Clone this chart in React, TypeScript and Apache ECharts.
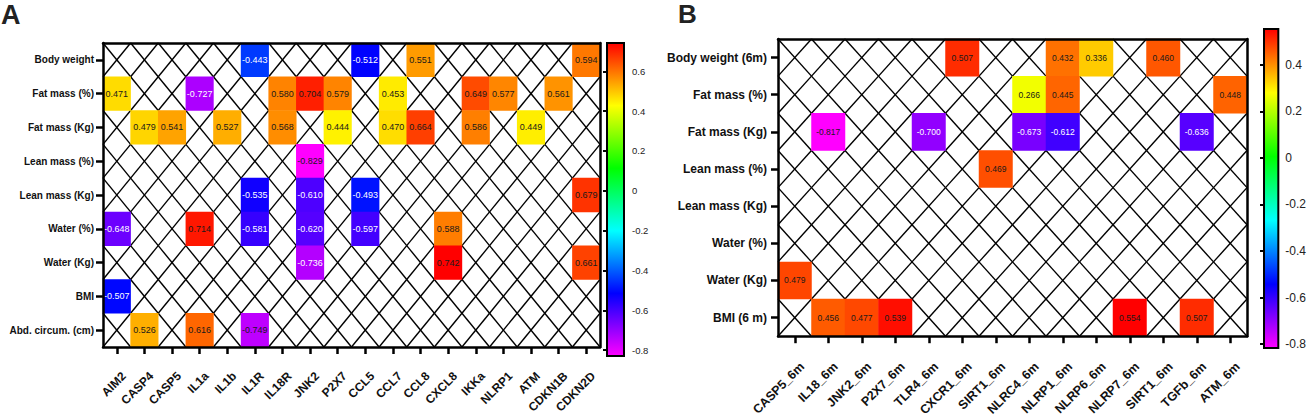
import React, { useEffect, useRef } from 'react';
import * as echarts from 'echarts';

// ---------------- Panel A data ----------------
const aCols = ['AIM2', 'CASP4', 'CASP5', 'IL1a', 'IL1b', 'IL1R', 'IL18R', 'JNK2', 'P2X7', 'CCL5', 'CCL7', 'CCL8', 'CXCL8', 'IKKa', 'NLRP1', 'ATM', 'CDKN1B', 'CDKN2D'];
const aRows = ['Body weight', 'Fat mass (%)', 'Fat mass (Kg)', 'Lean mass (%)', 'Lean mass (Kg)', 'Water (%)', 'Water (Kg)', 'BMI', 'Abd. circum. (cm)'];
// [column index, row index, r]
const aCells: number[][] = [
  [5, 0, -0.443], [9, 0, -0.512], [11, 0, 0.551], [17, 0, 0.594],
  [0, 1, 0.471], [3, 1, -0.727], [6, 1, 0.58], [7, 1, 0.704], [8, 1, 0.579], [10, 1, 0.453], [13, 1, 0.649], [14, 1, 0.577], [16, 1, 0.561],
  [1, 2, 0.479], [2, 2, 0.541], [4, 2, 0.527], [6, 2, 0.568], [8, 2, 0.444], [10, 2, 0.47], [11, 2, 0.664], [13, 2, 0.586], [15, 2, 0.449],
  [7, 3, -0.829],
  [5, 4, -0.535], [7, 4, -0.61], [9, 4, -0.493], [17, 4, 0.679],
  [0, 5, -0.648], [3, 5, 0.714], [5, 5, -0.581], [7, 5, -0.62], [9, 5, -0.597], [12, 5, 0.588],
  [7, 6, -0.736], [12, 6, 0.742], [17, 6, 0.661],
  [0, 7, -0.507],
  [1, 8, 0.526], [3, 8, 0.616], [5, 8, -0.749],
];
const aTicks = [-0.8, -0.6, -0.4, -0.2, 0, 0.2, 0.4, 0.6];

// ---------------- Panel B data ----------------
const bCols = ['CASP5_6m', 'IL18_6m', 'JNK2_6m', 'P2X7_6m', 'TLR4_6m', 'CXCR1_6m', 'SIRT1_6m', 'NLRC4_6m', 'NLRP1_6m', 'NLRP6_6m', 'NLRP7_6m', 'SIRT1_6m', 'TGFb_6m', 'ATM_6m'];
const bRows = ['Body weight (6m)', 'Fat mass (%)', 'Fat mass (Kg)', 'Lean mass (%)', 'Lean mass (Kg)', 'Water (%)', 'Water (Kg)', 'BMI (6 m)'];
const bCells: number[][] = [
  [5, 0, 0.507], [8, 0, 0.432], [9, 0, 0.336], [11, 0, 0.46],
  [7, 1, 0.266], [8, 1, 0.445], [13, 1, 0.448],
  [1, 2, -0.817], [4, 2, -0.7], [7, 2, -0.673], [8, 2, -0.612], [12, 2, -0.636],
  [6, 3, 0.469],
  [0, 6, 0.479],
  [1, 7, 0.456], [2, 7, 0.477], [3, 7, 0.539], [10, 7, 0.554], [12, 7, 0.507],
];
const bTicks = [-0.8, -0.6, -0.4, -0.2, 0, 0.2, 0.4];

const palette = ['#ff00ff', '#0000ff', '#00ffff', '#00ff00', '#ffff00', '#ff0000'];
const FONT = 'Arial, "Liberation Sans", Helvetica, sans-serif';

function emptyCells(cols: string[], rows: string[], cells: number[][]) {
  const filled = new Set(cells.map((c) => c[0] + ',' + c[1]));
  const out: number[][] = [];
  rows.forEach((_, r) => cols.forEach((__, c) => { if (!filled.has(c + ',' + r)) out.push([c, r]); }));
  return out;
}

function labelColor(v: number) {
  return v < 0 && v > -0.74 ? '#ffffff' : '#1a1a1a';
}

const hatchRender = (params: any, api: any) => {
  const c = api.coord([api.value(0), api.value(1)]);
  const s = api.size([1, 1]);
  const x0 = c[0] - s[0] / 2, x1 = c[0] + s[0] / 2, y0 = c[1] - s[1] / 2, y1 = c[1] + s[1] / 2;
  const style = { stroke: '#000', lineWidth: 1.4 };
  return {
    type: 'group',
    children: [
      { type: 'line', shape: { x1: x0, y1: y0, x2: x1, y2: y1 }, style },
      { type: 'line', shape: { x1: x0, y1: y1, x2: x1, y2: y0 }, style },
    ],
  };
};

const barRender = (params: any) => {
  const cs = params.coordSys;
  const stops = palette.slice().reverse().map((color, i) => ({ offset: i / (palette.length - 1), color }));
  return {
    type: 'rect',
    shape: { x: cs.x, y: cs.y, width: cs.width, height: cs.height },
    style: { fill: new echarts.graphic.LinearGradient(0, 0, 0, 1, stops), stroke: '#000', lineWidth: 2 },
  };
};

function panel(opts: {
  cols: string[]; rows: string[]; cells: number[][]; ticks: number[];
  gi: number; xFont: number; yFont: number; valFont: number; cbFont: number;
  xMargin: number; yMargin: number; cbMargin: number;
}) {
  const { cols, rows, cells, ticks, gi } = opts;
  const vals = cells.map((c) => c[2]);
  const vmin = Math.min(...vals), vmax = Math.max(...vals);
  const border = { show: true, lineStyle: { color: '#000', width: 2.5 } };
  const xAxis = [
    {
      type: 'category', gridIndex: gi, data: cols, position: 'bottom', z: 10,
      axisLine: border,
      axisTick: { show: true, alignWithLabel: true, length: 7, lineStyle: { color: '#000', width: 2.5 } },
      axisLabel: {
        interval: 0, rotate: 45, margin: opts.xMargin, fontSize: opts.xFont, fontWeight: 'bold', color: '#111', fontFamily: FONT,
        verticalAlign: 'top', padding: [4, 0, 0, 0],
      },
      splitLine: { show: false },
    },
    {
      type: 'category', gridIndex: gi, data: cols, position: 'top', z: 10,
      axisLine: border, axisTick: { show: false }, axisLabel: { show: false }, splitLine: { show: false },
    },
    { type: 'value', gridIndex: gi + 1, min: 0, max: 1, show: false },
  ];
  const yAxis = [
    {
      type: 'category', gridIndex: gi, data: rows, inverse: true, position: 'left', z: 10,
      axisLine: border,
      axisTick: { show: true, alignWithLabel: true, length: 7, lineStyle: { color: '#000', width: 2.5 } },
      axisLabel: { interval: 0, margin: opts.yMargin, fontSize: opts.yFont, fontWeight: 'bold', color: '#111', fontFamily: FONT },
      splitLine: { show: false },
    },
    {
      type: 'category', gridIndex: gi, data: rows, inverse: true, position: 'right', z: 10,
      axisLine: border, axisTick: { show: false }, axisLabel: { show: false }, splitLine: { show: false },
    },
    {
      type: 'value', gridIndex: gi + 1, min: vmin, max: vmax, position: 'right', z: 10,
      axisLine: { show: false },
      axisTick: { show: true, inside: true, length: 4, customValues: ticks, lineStyle: { color: '#000', width: 2 } },
      axisLabel: { show: true, customValues: ticks, margin: opts.cbMargin, fontSize: opts.cbFont, color: '#222', fontFamily: FONT, formatter: (v: number) => String(Math.round(v * 10) / 10) },
      splitLine: { show: false },
    },
  ];
  const xi = gi / 2 * 3;
  const series = [
    {
      type: 'custom', xAxisIndex: xi, yAxisIndex: xi, renderItem: hatchRender,
      data: emptyCells(cols, rows, cells), silent: true, z: 2,
    },
    {
      type: 'heatmap', xAxisIndex: xi, yAxisIndex: xi, z: 3,
      data: cells.map((c) => ({ value: c, label: { color: labelColor(c[2]) } })),
      itemStyle: { borderWidth: 0 },
      label: { show: true, fontSize: opts.valFont, fontFamily: FONT, formatter: (p: any) => p.value[2].toFixed(3) },
      emphasis: { disabled: true },
    },
    {
      type: 'custom', xAxisIndex: xi + 2, yAxisIndex: xi + 2, renderItem: barRender,
      data: [[0.5, vmin]], silent: true, z: 2,
    },
  ];
  return { xAxis, yAxis, series, vmin, vmax };
}

export default function App() {
  const ref = useRef<HTMLDivElement>(null);
  useEffect(() => {
    document.body.style.margin = '0';
    if (!ref.current) return;
    const chart = echarts.init(ref.current, null, { renderer: 'svg' });
    const A = panel({ cols: aCols, rows: aRows, cells: aCells, ticks: aTicks, gi: 0, xFont: 12, yFont: 10, valFont: 9, cbFont: 9.5, xMargin: 20, yMargin: 9, cbMargin: 8 });
    const B = panel({ cols: bCols, rows: bRows, cells: bCells, ticks: bTicks, gi: 2, xFont: 12.5, yFont: 12, valFont: 8.5, cbFont: 12, xMargin: 21, yMargin: 11, cbMargin: 7 });
    chart.setOption({
      animation: false,
      backgroundColor: '#ffffff',
      title: [
        { text: 'A', left: 1, top: 1, padding: 0, textStyle: { fontSize: 27, fontWeight: 'bold', color: '#222', fontFamily: FONT } },
        { text: 'B', left: 678, top: 1, padding: 0, textStyle: { fontSize: 26, fontWeight: 'bold', color: '#222', fontFamily: FONT } },
      ],
      grid: [
        { left: 103, top: 43, width: 497, height: 304 },
        { left: 607, top: 43, width: 17, height: 313 },
        { left: 778, top: 39, width: 469, height: 301 },
        { left: 1264, top: 29, width: 16, height: 319 },
      ],
      xAxis: [...A.xAxis, ...B.xAxis],
      yAxis: [...A.yAxis, ...B.yAxis],
      visualMap: [
        { show: false, type: 'continuous', seriesIndex: 1, dimension: 2, min: A.vmin, max: A.vmax, inRange: { color: palette } },
        { show: false, type: 'continuous', seriesIndex: 4, dimension: 2, min: B.vmin, max: B.vmax, inRange: { color: palette } },
      ],
      series: [...A.series, ...B.series],
    });
    return () => chart.dispose();
  }, []);
  return <div ref={ref} style={{ width: 1309, height: 419 }} />;
}
